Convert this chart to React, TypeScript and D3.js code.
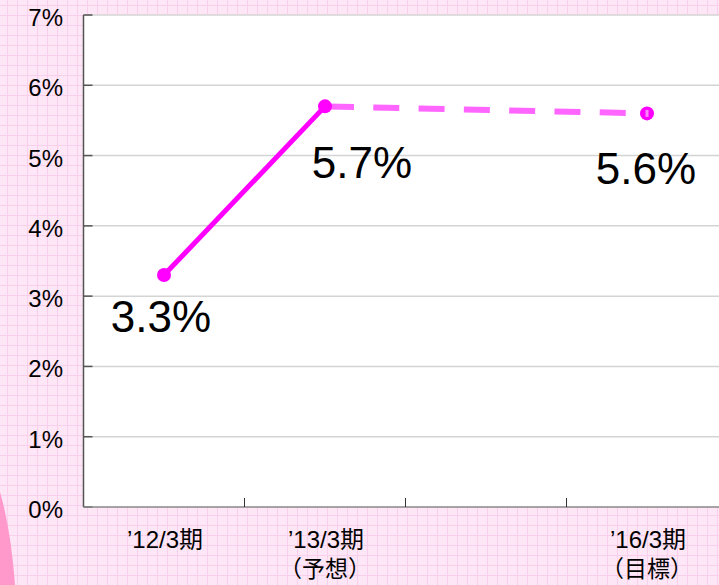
import React from "react";
import * as d3 from "d3";

const categories = ["’12/3期", "’13/3期", "", "’16/3期"];
const subLabels = ["", "（予想）", "", "（目標）"];
const values: (number | null)[] = [3.3, 5.7, null, 5.6];
const valueLabels = ["3.3%", "5.7%", "", "5.6%"];
const yTicks = [0, 1, 2, 3, 4, 5, 6, 7];

const W = 719;
const H = 585;
const left = 83.5;
const top = 15;
const bottom = 507;
const bandW = 161;

export default function App() {
  const x = d3
    .scaleBand<number>()
    .domain(categories.map((_, i) => i))
    .range([left, left + bandW * categories.length])
    .padding(0);
  const y = d3.scaleLinear().domain([0, 7]).range([bottom, top]);
  const cx = (i: number) => (x(i) as number) + x.bandwidth() / 2;

  const solid = d3
    .line<number>()
    .x((i) => cx(i))
    .y((i) => y(values[i] as number));
  const solidPath = solid([0, 1]) as string;
  const dashPath = solid([1, 3]) as string;

  const font = "'Liberation Sans', Arial, 'Noto Sans CJK JP', sans-serif";
  const labelOffsets: { dx: number; dy: number }[] = [
    { dx: -3, dy: 57 },
    { dx: 37, dy: 72 },
    { dx: 0, dy: 0 },
    { dx: -1, dy: 71 },
  ];

  const gridLinesV = d3.range(7, W, 10);
  const gridLinesH = d3.range(5, H, 10);

  return (
    <svg
      width={W}
      height={H}
      style={{ position: "absolute", left: 0, top: 0, display: "block" }}
      fontFamily={font}
    >
      <rect x={0} y={0} width={W} height={H} fill="#fde6f5" />
      {gridLinesV.map((gx) => (
        <line key={"v" + gx} x1={gx + 0.5} x2={gx + 0.5} y1={0} y2={H} stroke="#f9cfeb" strokeWidth={1} />
      ))}
      {gridLinesH.map((gy) => (
        <line key={"h" + gy} x1={0} x2={W} y1={gy + 0.5} y2={gy + 0.5} stroke="#f9cfeb" strokeWidth={1} />
      ))}
      <path d="M0,492 Q11,530 15,585 L0,585 Z" fill="#ff99cc" />

      <rect x={left} y={top} width={W - left} height={bottom - top} fill="#ffffff" />
      {yTicks.slice(1).map((t) => (
        <line key={"g" + t} x1={left} x2={W} y1={y(t)} y2={y(t)} stroke="#d4d4d4" strokeWidth={1.5} />
      ))}
      {yTicks.map((t) => (
        <line key={"t" + t} x1={left} x2={left + 9} y1={y(t)} y2={y(t)} stroke="#555" strokeWidth={1.5} />
      ))}
      <line x1={left} x2={left} y1={top} y2={bottom} stroke="#555" strokeWidth={1.5} />
      <line x1={left} x2={W} y1={bottom} y2={bottom} stroke="#888" strokeWidth={1.5} />
      {categories.map((_, i) =>
        i > 0 ? (
          <line key={"bt" + i} x1={x(i) as number} x2={x(i) as number} y1={bottom - 9} y2={bottom} stroke="#333" strokeWidth={1} />
        ) : null
      )}

      {yTicks.map((t) => (
        <text key={"yl" + t} x={63} y={y(t) + 11} fontSize={24} textAnchor="end" fill="#000">
          {t + "%"}
        </text>
      ))}

      {categories.map((c, i) => (
        <g key={"c" + i}>
          {c && (
            <text x={cx(i) + 1} y={548} fontSize={24} textAnchor="middle" fill="#000">
              {c}
            </text>
          )}
          {subLabels[i] && (
            <text x={cx(i)} y={577} fontSize={23} textAnchor="middle" fill="#000">
              {subLabels[i]}
            </text>
          )}
        </g>
      ))}

      <path d={solidPath} fill="none" stroke="#ff00ff" strokeWidth={5} />
      <path
        d={dashPath}
        fill="none"
        stroke="#ff66ff"
        strokeWidth={6}
        strokeDasharray="26 19.3"
        strokeDashoffset={42.3}
      />
      {values.map((v, i) =>
        v === null ? null : (
          <circle key={"m" + i} cx={cx(i)} cy={y(v)} r={7} fill="#ff00ff" />
        )
      )}
      {values.map((v, i) =>
        v === null || i !== 3 ? null : (
          <rect key={"hi" + i} x={cx(i) - 1.5} y={y(v) - 3.5} width={3} height={7} fill="#ff88ff" />
        )
      )}

      {values.map((v, i) =>
        v === null ? null : (
          <text
            key={"vl" + i}
            x={cx(i) + labelOffsets[i].dx}
            y={y(v) + labelOffsets[i].dy}
            fontSize={44}
            textAnchor="middle"
            fill="#000"
          >
            {valueLabels[i]}
          </text>
        )
      )}
    </svg>
  );
}
